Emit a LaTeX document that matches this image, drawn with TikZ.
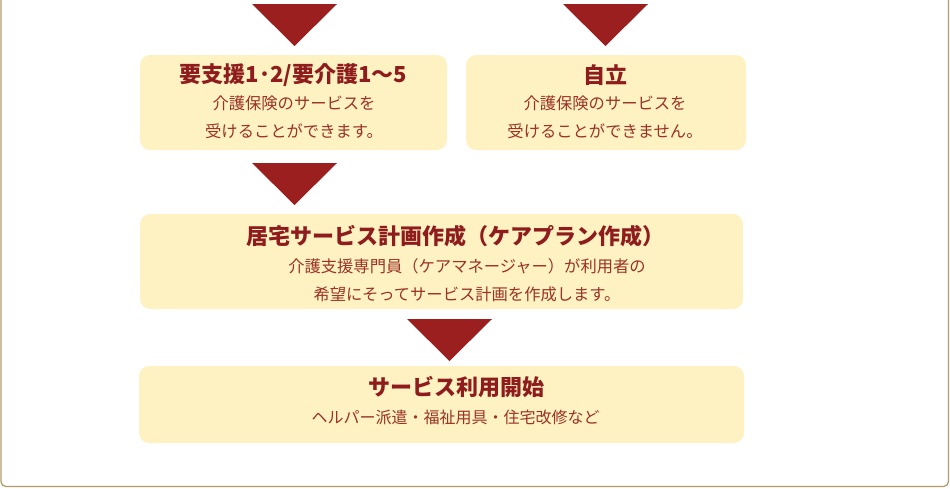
\documentclass[tikz,border=0pt]{standalone}
\usepackage{fontspec}
\setmainfont{Noto Sans CJK JP}
\usetikzlibrary{positioning}
\definecolor{boxfill}{HTML}{FEF2C3}
\definecolor{titlered}{HTML}{8E1C1C}
\definecolor{bodyred}{HTML}{9A3326}
\definecolor{arrowred}{HTML}{9B1F1F}
\definecolor{framecol}{HTML}{B09B6B}

\begin{document}
\begin{tikzpicture}[x=1pt,y=-1pt,
  box/.style={rectangle,rounded corners=10pt,fill=boxfill,inner sep=0pt},
  title/.style={text=titlered,font=\fontsize{22}{22}\selectfont\bfseries},
  body/.style={text=bodyred,font=\fontsize{16.3}{28}\selectfont,align=center},
  arrowtri/.style={fill=arrowred}]
  \useasboundingbox (0,0) rectangle (950,488);

  % frame
  \draw[framecol,line width=1.3pt,rounded corners=5pt]
    (1,-5) -- (1,486.5) -- (948.5,486.5) -- (948.5,-5);

  % boxes
  \node[box,minimum width=307pt,minimum height=95pt] (kaigo) at (293.5,102.5) {};
  \node[box,minimum width=280pt,minimum height=95pt] (jiritsu) at (606,102.5) {};
  \node[box,minimum width=603pt,minimum height=95pt] (plan) at (441.5,261.5) {};
  \node[box,minimum width=605pt,minimum height=77pt] (riyou) at (441.5,404.5) {};

  % arrows
  \fill[arrowtri] (252,4) -- (337,4) -- (294.5,46) -- cycle;
  \fill[arrowtri] (563,4) -- (648,4) -- (605.5,46) -- cycle;
  \fill[arrowtri] (252,163) -- (337,163) -- (294.5,205) -- cycle;
  \fill[arrowtri] (407,319) -- (492,319) -- (449.5,361) -- cycle;

  % texts
  \node[title] (kaigoT) at (293.5,75) {要支援1･2/要介護1～5};
  \node[body] (kaigoB) at (294,117) {介護保険のサービスを\\受けることができます。};
  \node[title] (jiritsuT) at (605,75) {自立};
  \node[body] (jiritsuB) at (605,117) {介護保険のサービスを\\受けることができません。};
  \node[title] (planT) at (455,236) {居宅サービス計画作成（ケアプラン作成）};
  \node[body] (planB) at (467,280) {介護支援専門員（ケアマネージャー）が利用者の\\希望にそってサービス計画を作成します。};
  \node[title] (riyouT) at (456,387) {サービス利用開始};
  \node[body,font=\fontsize{16}{28}\selectfont] (riyouB) at (455.5,417) {ヘルパー派遣・福祉用具・住宅改修など};
\end{tikzpicture}
\end{document}
